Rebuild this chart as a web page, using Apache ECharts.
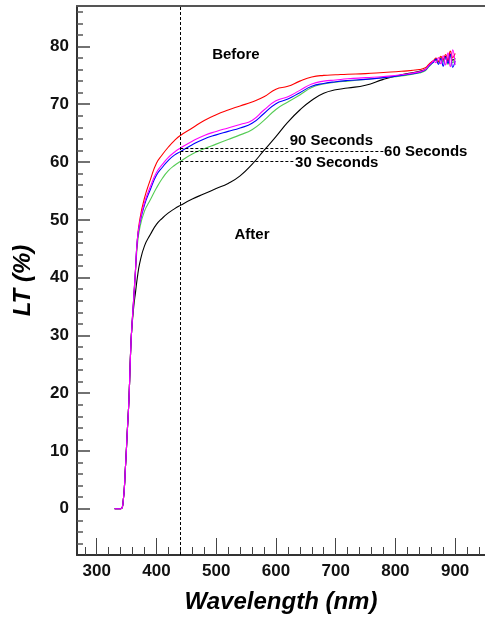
<!DOCTYPE html>
<html>
<head>
<meta charset="UTF-8">
<title>LT vs Wavelength</title>
<script src="https://cdn.jsdelivr.net/npm/echarts@6/dist/echarts.min.js"></script>
<style>
  html, body { margin: 0; padding: 0; background: #fff; }
  #main { width: 485px; height: 618px; }
</style>
</head>
<body>
<div id="main"></div>
<script>
// wavelengths (nm)
var wavelengths = [330, 340, 344, 348, 351, 354, 356, 358, 362, 365, 368, 372, 380, 390, 400, 410, 420, 430, 440,
  460, 480, 500, 520, 540, 560, 580, 600, 620, 640, 660, 680, 700, 720, 750, 780, 810, 840,
  850, 855, 860, 864, 868, 872, 876, 880, 884, 888, 892, 896, 900];

// LT (%) per curve
var before = [0, 0, 1, 7, 13, 19, 25, 30, 36.5, 41.5, 46.5, 50, 53.8, 57, 59.8, 61.3, 62.6, 63.7, 64.6,
  65.9, 67.2, 68.2, 69, 69.7, 70.4, 71.3, 72.6, 73.1, 74, 74.7, 75, 75.1, 75.2, 75.3, 75.5, 75.7, 76,
  76.3, 76.8, 77.3, 77.6, 78.0, 77.4, 78.3, 77.8, 78.6, 77.6, 79.2, 78.1, 78.8];
var sec90 = [0, 0, 1, 7, 13, 19, 25, 30, 36.5, 41.5, 46.5, 49.5, 53, 55.8, 58.2, 59.6, 60.8, 61.7, 62.4,
  63.6, 64.6, 65.3, 65.9, 66.5, 67.2, 69, 70.6, 71.3, 72.4, 73.5, 74, 74.2, 74.4, 74.6, 74.8, 75.1, 75.6,
  76.0, 76.6, 77.1, 77.5, 77.2, 78.1, 77.0, 78.4, 76.8, 78.9, 76.5, 79.4, 76.8];
var sec60 = [0, 0, 1, 7, 13, 19, 25, 30, 36.5, 41.5, 46.5, 49.3, 52.6, 55.3, 57.7, 59.1, 60.3, 61.2, 61.8,
  63, 64, 64.7, 65.3, 65.9, 66.7, 68.4, 70.1, 70.9, 72, 73.1, 73.6, 73.9, 74.1, 74.3, 74.6, 75, 75.5,
  75.9, 76.5, 77.0, 77.3, 77.8, 76.9, 77.9, 76.6, 78.2, 77.1, 78.6, 76.4, 77.5];
var sec30 = [0, 0, 1, 7, 13, 19, 25, 30, 36, 41, 45.5, 48.5, 51.5, 53.5, 55.5, 57.2, 58.5, 59.4, 60.1,
  61.4, 62.3, 63.1, 63.9, 64.7, 65.6, 67.2, 69.1, 70.4, 71.6, 72.9, 73.5, 73.8, 74, 74.3, 74.6, 74.9, 75.4,
  75.8, 76.4, 76.9, 77.4, 77.6, 77.1, 78.2, 77.3, 77.9, 76.9, 78.4, 77.2, 77.9];
var after = [0, 0, 1, 7, 13, 19, 25, 30, 35, 37.5, 40, 42.5, 45.5, 47.5, 49.2, 50.3, 51.2, 51.9, 52.5,
  53.6, 54.5, 55.4, 56.3, 57.6, 59.6, 62, 64.4, 66.9, 69, 70.7, 71.9, 72.5, 72.8, 73.3, 74.3, 75.1, 75.7,
  76.0, 76.6, 77.1, 77.5, 77.7, 77.3, 78.0, 77.6, 78.3, 77.4, 78.7, 77.6, 78.0];

var xMajor = [300, 400, 500, 600, 700, 800, 900];
var xMinor = [280, 320, 340, 360, 380, 420, 440, 460, 480, 520, 540, 560, 580, 620, 640, 660, 680,
  720, 740, 760, 780, 820, 840, 860, 880, 920, 940];
var yMajor = [0, 10, 20, 30, 40, 50, 60, 70, 80];
var yMinor = [-6, -4, -2, 2, 4, 6, 8, 12, 14, 16, 18, 22, 24, 26, 28, 32, 34, 36, 38, 42, 44, 46, 48,
  52, 54, 56, 58, 62, 64, 66, 68, 72, 74, 76, 78, 82, 84, 86];

// annotations
var refWavelength = 440;
var guideLines = [[62.4, 620], [61.8, 780], [60.1, 630]]; // [LT, end wavelength]
var notes = [
  ['Before', 533, 78.6, 'center'],
  ['After', 560, 47.4, 'center'],
  ['90 Seconds', 623, 63.6, 'left'],
  ['60 Seconds', 781, 61.7, 'left'],
  ['30 Seconds', 632, 59.8, 'left']
];

var X_MIN = 267, X_MAX = 950, Y_MIN = -8, Y_MAX = 87;
var FONT = 'Arial, "Liberation Sans", sans-serif';

function pairs(vals) {
  return wavelengths.map(function (w, i) { return [w, vals[i]]; });
}

function curve(name, vals, color) {
  return {
    name: name, type: 'line', data: pairs(vals),
    xAxisIndex: 0, yAxisIndex: 0,
    showSymbol: false, smooth: 0.5,
    lineStyle: { color: color, width: 1.1 }, z: 3
  };
}

var markLines = [[{ coord: [refWavelength, Y_MIN] }, { coord: [refWavelength, Y_MAX] }]];
guideLines.forEach(function (g) {
  markLines.push([{ coord: [refWavelength, g[0]] }, { coord: [g[1], g[0]] }]);
});

var markPoints = notes.map(function (n) {
  return {
    coord: [n[1], n[2]], symbol: 'circle', symbolSize: 0,
    label: { show: true, formatter: n[0], position: [0, 0], align: n[3], verticalAlign: 'middle',
      color: '#000', fontFamily: FONT, fontWeight: 'bold', fontSize: 15 }
  };
});

var gridBox = { left: 77, right: 0, top: 6, bottom: 63, containLabel: false, outerBoundsMode: 'none' };

var chart = echarts.init(document.getElementById('main'));
chart.setOption({
  animation: false,
  backgroundColor: '#fff',
  grid: [Object.assign({}, gridBox), Object.assign({}, gridBox)],
  xAxis: [{
    type: 'value', gridIndex: 0, position: 'bottom', min: X_MIN, max: X_MAX,
    name: 'Wavelength (nm)', nameLocation: 'middle', nameGap: 35,
    nameTextStyle: { fontFamily: FONT, fontWeight: 'bold', fontStyle: 'italic', fontSize: 24, color: '#000' },
    axisLine: { show: true, onZero: false, lineStyle: { color: '#333', width: 2 } },
    axisTick: { show: true, inside: true, length: 17, customValues: xMajor, lineStyle: { color: '#444', width: 1 } },
    axisLabel: { customValues: xMajor, margin: 8, fontFamily: FONT, fontWeight: 'bold', fontSize: 17, color: '#111' },
    splitLine: { show: false }
  }, {
    type: 'value', gridIndex: 0, position: 'top', min: X_MIN, max: X_MAX,
    axisLine: { show: true, onZero: false, lineStyle: { color: '#555', width: 2 } },
    axisTick: { show: false }, axisLabel: { show: false }, splitLine: { show: false }
  }, {
    type: 'value', gridIndex: 1, position: 'bottom', min: X_MIN, max: X_MAX,
    axisLine: { show: false, onZero: false },
    axisTick: { show: true, inside: true, length: 8, customValues: xMinor, lineStyle: { color: '#444', width: 1 } },
    axisLabel: { show: false }, splitLine: { show: false }
  }],
  yAxis: [{
    type: 'value', gridIndex: 0, min: Y_MIN, max: Y_MAX,
    name: 'LT (%)', nameLocation: 'middle', nameGap: 42,
    nameTextStyle: { fontFamily: FONT, fontWeight: 'bold', fontStyle: 'italic', fontSize: 24, color: '#000' },
    axisLine: { show: true, onZero: false, lineStyle: { color: '#333', width: 2 } },
    axisTick: { show: true, inside: true, length: 13, customValues: yMajor, lineStyle: { color: '#444', width: 1.5 } },
    axisLabel: { customValues: yMajor, margin: 8, fontFamily: FONT, fontWeight: 'bold', fontSize: 17, color: '#111' },
    splitLine: { show: false }
  }, {
    type: 'value', gridIndex: 1, min: Y_MIN, max: Y_MAX,
    axisLine: { show: false, onZero: false },
    axisTick: { show: true, inside: true, length: 6, customValues: yMinor, lineStyle: { color: '#555', width: 1.5 } },
    axisLabel: { show: false }, splitLine: { show: false }
  }],
  series: [
    curve('After', after, '#000000'),
    curve('30 Seconds', sec30, '#55cc55'),
    curve('Before', before, '#ff0000'),
    curve('60 Seconds', sec60, '#0000ff'),
    curve('90 Seconds', sec90, '#ff00ff'),
    {
      name: 'notes', type: 'line', data: [], xAxisIndex: 0, yAxisIndex: 0,
      markLine: {
        silent: true, symbol: ['none', 'none'], label: { show: false },
        lineStyle: { color: '#000', width: 1, type: [3, 2] },
        data: markLines
      },
      markPoint: { silent: true, data: markPoints }
    }
  ]
});
</script>
</body>
</html>
